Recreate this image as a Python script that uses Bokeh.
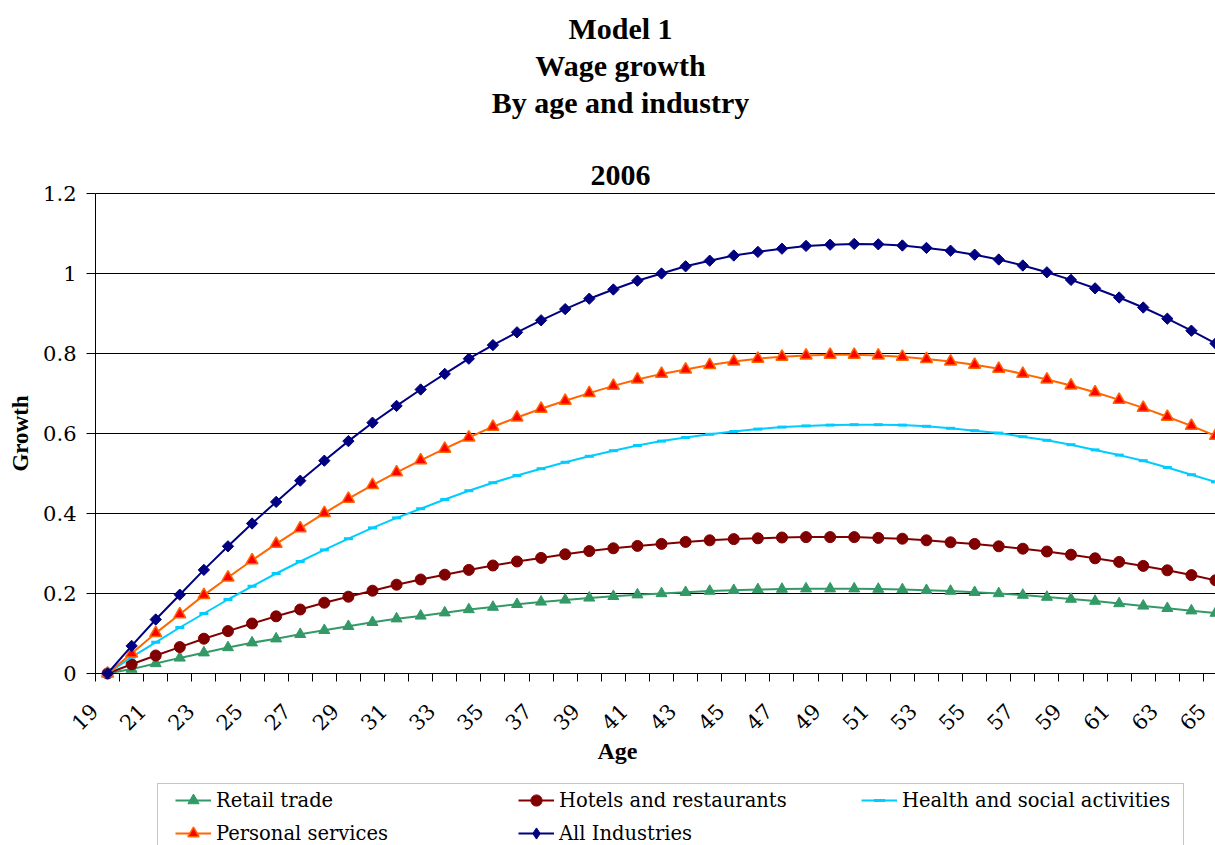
import math

from bokeh.embed import file_html
from bokeh.models import (BoxAnnotation, FixedTicker, Label, Legend,
                          LegendItem, LinearAxis, Range1d)
from bokeh.plotting import figure
from bokeh.resources import INLINE

# ---- data -------------------------------------------------------------
ages = [19, 20, 21, 22, 23, 24, 25, 26, 27, 28, 29, 30, 31, 32, 33, 34,
        35, 36, 37, 38, 39, 40, 41, 42, 43, 44, 45, 46, 47, 48, 49, 50,
        51, 52, 53, 54, 55, 56, 57, 58, 59, 60, 61, 62, 63, 64, 65]

age_labels = ["19", "21", "23", "25", "27", "29", "31", "33", "35", "37",
              "39", "41", "43", "45", "47", "49", "51", "53", "55", "57",
              "59", "61", "63", "65"]

retail_trade = [0.000, 0.011, 0.025, 0.039, 0.052, 0.065, 0.077, 0.087,
                0.098, 0.108, 0.118, 0.128, 0.137, 0.144, 0.152, 0.160,
                0.166, 0.173, 0.179, 0.184, 0.189, 0.193, 0.197, 0.200,
                0.203, 0.206, 0.208, 0.210, 0.211, 0.212, 0.212, 0.212,
                0.211, 0.210, 0.208, 0.206, 0.203, 0.200, 0.196, 0.191,
                0.186, 0.181, 0.175, 0.169, 0.163, 0.157, 0.151]

hotels_restaurants = [0.000, 0.023, 0.045, 0.066, 0.087, 0.106, 0.125, 0.143,
                      0.160, 0.177, 0.192, 0.207, 0.222, 0.235, 0.247, 0.259,
                      0.270, 0.280, 0.289, 0.298, 0.306, 0.313, 0.319, 0.324,
                      0.329, 0.333, 0.336, 0.338, 0.340, 0.341, 0.341, 0.341,
                      0.339, 0.337, 0.333, 0.328, 0.324, 0.318, 0.312, 0.305,
                      0.297, 0.288, 0.279, 0.269, 0.258, 0.246, 0.233]

health_social = [0.000, 0.041, 0.078, 0.115, 0.150, 0.185, 0.218, 0.250,
                 0.280, 0.309, 0.337, 0.364, 0.389, 0.412, 0.435, 0.457,
                 0.477, 0.495, 0.512, 0.528, 0.543, 0.557, 0.570, 0.581,
                 0.590, 0.598, 0.605, 0.611, 0.616, 0.619, 0.621, 0.622,
                 0.622, 0.621, 0.618, 0.613, 0.607, 0.601, 0.592, 0.583,
                 0.572, 0.559, 0.546, 0.532, 0.515, 0.497, 0.479]

personal_services = [0.000, 0.050, 0.101, 0.148, 0.196, 0.240, 0.283, 0.324,
                     0.363, 0.401, 0.437, 0.471, 0.503, 0.533, 0.562, 0.590,
                     0.617, 0.640, 0.662, 0.682, 0.701, 0.719, 0.735, 0.749,
                     0.760, 0.771, 0.780, 0.787, 0.792, 0.795, 0.797, 0.797,
                     0.795, 0.792, 0.786, 0.780, 0.772, 0.762, 0.749, 0.735,
                     0.720, 0.703, 0.684, 0.664, 0.642, 0.619, 0.594]

all_industries = [0.000, 0.069, 0.135, 0.197, 0.259, 0.318, 0.375, 0.429,
                  0.482, 0.532, 0.581, 0.627, 0.669, 0.710, 0.749, 0.787,
                  0.821, 0.853, 0.883, 0.911, 0.937, 0.960, 0.982, 1.000,
                  1.018, 1.032, 1.045, 1.054, 1.062, 1.069, 1.072, 1.074,
                  1.073, 1.070, 1.064, 1.057, 1.047, 1.035, 1.020, 1.003,
                  0.984, 0.963, 0.940, 0.915, 0.887, 0.857, 0.825]

y_ticks = [0, 0.2, 0.4, 0.6, 0.8, 1, 1.2]
y_tick_labels = ["0", "0.2", "0.4", "0.6", "0.8", "1", "1.2"]

BOLD_FONT = "Liberation Serif"
TEXT_FONT = "DejaVu Serif"

# ---- page geometry (pixels) ---------------------------------------------
W, H = 1215, 845
PLOT_LEFT, PLOT_TOP, PLOT_BOTTOM = 95, 193, 673

# category axis: each age owns one unit; the chart is cut at the last centre
x_lo, x_hi = ages[0] - 0.5, ages[-1]
px_x = (W - PLOT_LEFT) / (x_hi - x_lo)
y_lo, y_hi = y_ticks[0], y_ticks[-1]
px_y = (PLOT_BOTTOM - PLOT_TOP) / (y_hi - y_lo)

p = figure(width=W, height=H, output_backend="svg", toolbar_location=None,
           x_range=Range1d(x_lo - PLOT_LEFT / px_x, x_hi),
           y_range=Range1d(y_lo - (H - PLOT_BOTTOM) / px_y, y_hi + PLOT_TOP / px_y),
           min_border_left=0, min_border_right=0,
           min_border_top=0, min_border_bottom=0)
p.outline_line_color = None
p.background_fill_color = "white"
p.border_fill_color = "white"
p.grid.visible = False

# ---- axes pinned inside the canvas ---------------------------------------
xa = p.xaxis[0]
xa.fixed_location = y_lo
xa.bounds = (x_lo, ages[-1] + 0.5)
xa.ticker = FixedTicker(ticks=[a - 0.5 for a in ages] + [ages[-1] + 0.5])
xa.major_tick_out = 8
xa.major_tick_in = 0
xa.minor_tick_line_color = None
xa.major_label_text_color = None
xa.axis_line_color = "black"
xa.major_tick_line_color = "black"

label_ages = [int(s) for s in age_labels]
label_pos = [a - 0.55 for a in label_ages]
xl = LinearAxis(fixed_location=y_lo,
                ticker=FixedTicker(ticks=label_pos),
                major_label_overrides=dict(zip(label_pos, age_labels)),
                major_tick_out=0, major_tick_in=0,
                minor_tick_line_color=None, major_tick_line_color=None,
                axis_line_color=None,
                major_label_orientation=math.pi / 4,
                major_label_standoff=34,
                major_label_text_font=TEXT_FONT,
                major_label_text_font_size="21px",
                major_label_text_color="black")
p.add_layout(xl, "below")

ya = p.yaxis[0]
ya.fixed_location = x_lo
ya.bounds = (y_lo, y_hi)
ya.ticker = FixedTicker(ticks=y_ticks)
ya.major_label_overrides = dict(zip(y_ticks, y_tick_labels))
ya.major_tick_out = 9
ya.major_tick_in = 0
ya.minor_tick_line_color = None
ya.axis_line_color = "black"
ya.major_label_standoff = 10
ya.major_label_text_font = TEXT_FONT
ya.major_label_text_font_size = "21px"
ya.major_label_text_color = "black"
ya.axis_label = "Growth"
ya.axis_label_text_font = BOLD_FONT
ya.axis_label_text_font_style = "bold"
ya.axis_label_text_font_size = "23px"
ya.axis_label_text_color = "black"
ya.axis_label_standoff = 7

# horizontal gridlines across the plotting area
p.segment(x0=[x_lo] * len(y_ticks), x1=[ages[-1] + 0.5] * len(y_ticks),
          y0=y_ticks, y1=y_ticks, line_color="black", line_width=1)

# ---- series -----------------------------------------------------------
series = [
    ("Retail trade", retail_trade, "#339966",
     dict(marker="triangle", size=11, fill_color="#339966", line_color="#339966")),
    ("Hotels and restaurants", hotels_restaurants, "#800000",
     dict(marker="circle", size=11, fill_color="#800000", line_color="#800000")),
    ("Health and social activities", health_social, "#00CCFF",
     dict(marker="dash", size=9, line_color="#00CCFF", line_width=3)),
    ("Personal services", personal_services, "#FF6600",
     dict(marker="triangle", size=12, fill_color="#FF0000", line_color="#FF6600",
          line_width=1.5)),
    ("All Industries", all_industries, "#000080",
     dict(marker="square", size=8, angle=math.pi / 4, fill_color="#000080",
          line_color="#000080")),
]

items = []
for name, vals, color, mstyle in series:
    ln = p.line(ages, vals, line_color=color, line_width=2)
    mk = p.scatter(ages, vals, **mstyle)
    key = [ln, mk]
    if mstyle.get("angle"):
        # legend swatches ignore marker angles, so this entry gets a diamond key
        # (a single unplaced point: nothing is drawn in the chart itself)
        key = [ln, p.scatter([float("nan")], [float("nan")], marker="diamond",
                             size=12, fill_color=color, line_color=color)]
    items.append(LegendItem(label=name, renderers=key))

# ---- legend under the chart ---------------------------------------------
legend = Legend(items=items, orientation="horizontal", ncols=3,
                location=(175, -2), padding=0, margin=0,
                border_line_color=None, background_fill_alpha=0,
                glyph_width=36, glyph_height=28, label_standoff=5,
                label_width=297, label_height=28, spacing=5,
                label_text_font=TEXT_FONT, label_text_font_size="19.5px",
                label_text_color="black")
p.add_layout(legend)

p.add_layout(BoxAnnotation(left=157, right=1183, top=783, bottom=880,
                           left_units="canvas", right_units="canvas",
                           top_units="canvas", bottom_units="canvas",
                           fill_alpha=0, line_color="#404040", line_width=1))

# ---- titles and x caption ------------------------------------------------
TITLE_PX = 30
title_lines = [("Model 1", 38), ("Wage growth", 75),
               ("By age and industry", 112), ("2006", 185)]
for txt, baseline in title_lines:
    p.add_layout(Label(x=620, y=H - baseline + 0.34 * TITLE_PX,
                       x_units="screen", y_units="screen",
                       text=txt, text_align="center", text_baseline="middle",
                       text_font=BOLD_FONT, text_font_style="bold",
                       text_font_size=f"{TITLE_PX}px", text_color="black"))

p.add_layout(Label(x=617, y=H - 759 + 0.34 * 24, x_units="screen", y_units="screen",
                   text="Age", text_align="center", text_baseline="middle",
                   text_font=BOLD_FONT, text_font_style="bold",
                   text_font_size="24px", text_color="black"))

open("out.html", "w").write(file_html(p, INLINE))
